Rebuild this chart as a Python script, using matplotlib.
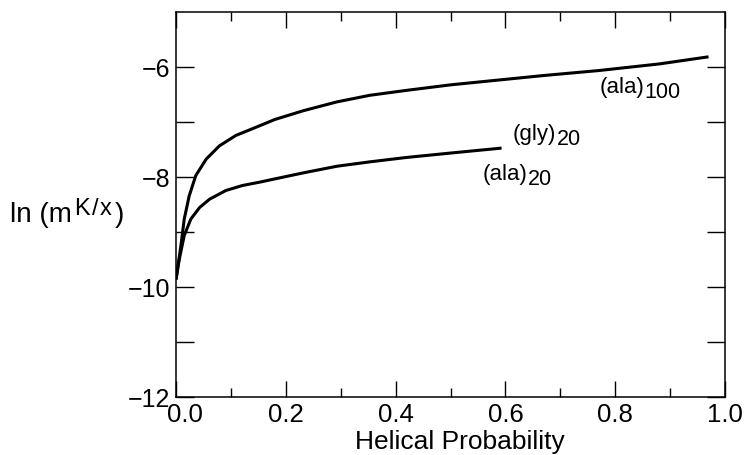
import matplotlib
matplotlib.use("Agg")
import matplotlib.pyplot as plt
from matplotlib.ticker import FixedLocator, FixedFormatter
from matplotlib.transforms import ScaledTranslation

plt.rcParams['font.family'] = ['Liberation Sans', 'DejaVu Sans']

# ---- data ----
ala100_x = [0.0, 0.009, 0.015, 0.024, 0.036, 0.055, 0.079, 0.109, 0.146, 0.18,
            0.232, 0.293, 0.353, 0.42, 0.50, 0.59, 0.67, 0.77, 0.88, 0.97]
ala100_y = [-9.87, -9.25, -8.77, -8.35, -7.98, -7.68, -7.44, -7.25, -7.10, -6.96,
            -6.80, -6.64, -6.52, -6.43, -6.33, -6.24, -6.16, -6.07, -5.95, -5.82]

ala20_x = [0.0, 0.006, 0.015, 0.027, 0.043, 0.061, 0.091, 0.121, 0.152, 0.18,
           0.232, 0.293, 0.353, 0.42, 0.50, 0.593]
ala20_y = [-9.87, -9.50, -9.07, -8.77, -8.56, -8.41, -8.25, -8.16, -8.10, -8.04,
           -7.93, -7.81, -7.73, -7.65, -7.57, -7.48]

x_major = [0.0, 0.2, 0.4, 0.6, 0.8, 1.0]
x_major_labels = ['0.0', '0.2', '0.4', '0.6', '0.8', '1.0']
x_minor = [0.1, 0.3, 0.5, 0.7, 0.9]
y_ticks = [-12, -11, -10, -9, -8, -7, -6]
y_tick_labels = ['\u221212', '', '\u221210', '', '\u22128', '', '\u22126']

# curve labels: (main text, subscript)
curve_label_main = ['(ala)', '(gly)', '(ala)']
curve_label_sub = ['100', '20', '20']
curve_label_pos = [(0.772, -6.46), (0.614, -7.31), (0.559, -8.04)]

x_label = 'Helical Probability'
y_label_main, y_label_sup, y_label_end = 'ln (m', ['K', '/', 'x'], ')'

W, H = 745, 456
fig = plt.figure(figsize=(W / 100, H / 100), dpi=100)
ax = fig.add_axes([176 / W, 1 - 397.7 / H, (725 - 176) / W, (397.7 - 12.7) / H])

ax.plot(ala100_x, ala100_y, color='black', lw=2.2, solid_capstyle='butt')
ax.plot(ala20_x, ala20_y, color='black', lw=2.2, solid_capstyle='butt')

ax.set_xlim(0, 1)
ax.set_ylim(-12, -5)

ax.xaxis.set_major_locator(FixedLocator(x_major))
ax.xaxis.set_major_formatter(FixedFormatter(x_major_labels))
ax.xaxis.set_minor_locator(FixedLocator(x_minor))
ax.yaxis.set_major_locator(FixedLocator(y_ticks))
ax.yaxis.set_major_formatter(FixedFormatter(y_tick_labels))

ax.tick_params(axis='x', which='major', direction='in', length=11.5, width=1.0,
               top=True, bottom=True, labelsize=18.5, pad=4)
ax.tick_params(axis='x', which='minor', direction='in', length=6.5, width=1.0,
               top=True, bottom=True)
ax.tick_params(axis='y', which='major', direction='in', length=13, width=1.0,
               left=True, right=True, labelsize=18, pad=4)

for s in ax.spines.values():
    s.set_linewidth(1.1)

# the "0.0" label sits a little right of its tick in the original
first = ax.xaxis.get_major_ticks()[0].label1
first.set_transform(first.get_transform() + ScaledTranslation(9 / 100, 0, fig.dpi_scale_trans))

renderer = fig.canvas.get_renderer()


def pieces(x_px, base_px, parts):
    """parts: list of (text, size, dy_px, gap_px) placed left to right; dy>0 moves down."""
    cur = x_px
    for s, size, dy, gap in parts:
        cur += gap
        t = fig.text(cur / W, 1 - (base_px + dy) / H, s, fontsize=size,
                     ha='left', va='baseline')
        bb = t.get_window_extent(renderer)
        cur = bb.x1


for main, sub, (lx, ly) in zip(curve_label_main, curve_label_sub, curve_label_pos):
    dx, dy = ax.transData.transform((lx, ly))
    pieces(dx, H - dy, [(main, 16, 0, 0), (sub, 15.5, 5.5, 0)])

fig.text(460 / W, 1 - 449 / H, x_label, fontsize=19, ha='center', va='baseline')
ylab_parts = [(y_label_main, 20, 0, 0)]
ylab_parts += [(c, 17, -7, 2) for c in y_label_sup]
ylab_parts += [(y_label_end, 20, 0, 3)]
pieces(10, 222, ylab_parts)

fig.savefig('out.png', dpi=100)
